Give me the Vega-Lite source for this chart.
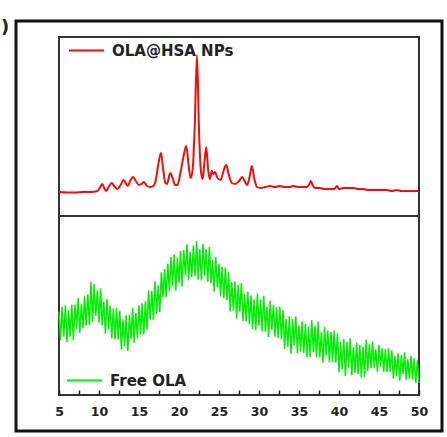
{
  "$schema": "https://vega.github.io/schema/vega-lite/v6.json",
  "autosize": {"type": "none"},
  "width": 360,
  "height": 358,
  "padding": {"left": 59, "top": 37, "right": 28, "bottom": 42},
  "background": "white",
  "config": {
    "view": {"stroke": "#333", "strokeWidth": 2},
    "axisX": {
      "domain": false, "grid": false, "ticks": true, "tickSize": -5, "tickColor": "#222", "tickWidth": 1.5,
      "labelFont": "DejaVu Sans", "labelFontWeight": "bold", "labelFontSize": 12.5, "labelColor": "#222",
      "labelPadding": 15, "labelFlush": false, "labelOverlap": false
    }
  },
  "datasets": {
    "ola_hsa": [
      {"angle": 5.0, "counts": 80}, {"angle": 6.0, "counts": 75}, {"angle": 7.0, "counts": 75}, {"angle": 8.0, "counts": 80},
      {"angle": 9.0, "counts": 80}, {"angle": 9.8, "counts": 90}, {"angle": 10.1, "counts": 120}, {"angle": 10.4, "counts": 160},
      {"angle": 10.7, "counts": 110}, {"angle": 10.9, "counts": 90}, {"angle": 11.2, "counts": 130}, {"angle": 11.6, "counts": 170},
      {"angle": 11.9, "counts": 140}, {"angle": 12.3, "counts": 110}, {"angle": 12.7, "counts": 150}, {"angle": 13.1, "counts": 200},
      {"angle": 13.4, "counts": 160}, {"angle": 13.6, "counts": 140}, {"angle": 13.9, "counts": 190}, {"angle": 14.25, "counts": 230},
      {"angle": 14.6, "counts": 190}, {"angle": 15.0, "counts": 150}, {"angle": 15.3, "counts": 160}, {"angle": 15.6, "counts": 180},
      {"angle": 16.0, "counts": 140}, {"angle": 16.4, "counts": 130}, {"angle": 16.8, "counts": 140}, {"angle": 17.1, "counts": 200},
      {"angle": 17.4, "counts": 350}, {"angle": 17.75, "counts": 470}, {"angle": 18.0, "counts": 320}, {"angle": 18.3, "counts": 170},
      {"angle": 18.5, "counts": 160}, {"angle": 18.9, "counts": 270}, {"angle": 19.2, "counts": 220}, {"angle": 19.5, "counts": 150},
      {"angle": 19.8, "counts": 150}, {"angle": 20.2, "counts": 280}, {"angle": 20.6, "counts": 450}, {"angle": 20.9, "counts": 540},
      {"angle": 21.2, "counts": 350}, {"angle": 21.45, "counts": 220}, {"angle": 21.7, "counts": 300}, {"angle": 21.95, "counts": 700},
      {"angle": 22.25, "counts": 1450}, {"angle": 22.5, "counts": 700}, {"angle": 22.75, "counts": 280}, {"angle": 22.95, "counts": 210},
      {"angle": 23.15, "counts": 350}, {"angle": 23.4, "counts": 530}, {"angle": 23.65, "counts": 300}, {"angle": 23.85, "counts": 210},
      {"angle": 24.1, "counts": 290}, {"angle": 24.3, "counts": 260}, {"angle": 24.5, "counts": 280}, {"angle": 24.8, "counts": 220},
      {"angle": 25.2, "counts": 200}, {"angle": 25.6, "counts": 300}, {"angle": 25.9, "counts": 350}, {"angle": 26.2, "counts": 260},
      {"angle": 26.6, "counts": 170}, {"angle": 27.0, "counts": 160}, {"angle": 27.5, "counts": 190}, {"angle": 27.9, "counts": 230},
      {"angle": 28.2, "counts": 190}, {"angle": 28.5, "counts": 150}, {"angle": 28.8, "counts": 220}, {"angle": 29.1, "counts": 340},
      {"angle": 29.4, "counts": 220}, {"angle": 29.75, "counts": 130}, {"angle": 30.2, "counts": 120}, {"angle": 30.8, "counts": 130},
      {"angle": 31.4, "counts": 140}, {"angle": 32.0, "counts": 130}, {"angle": 32.6, "counts": 140}, {"angle": 33.2, "counts": 130},
      {"angle": 33.8, "counts": 130}, {"angle": 34.3, "counts": 140}, {"angle": 34.9, "counts": 130}, {"angle": 35.5, "counts": 130},
      {"angle": 36.0, "counts": 130}, {"angle": 36.3, "counts": 160}, {"angle": 36.5, "counts": 190}, {"angle": 36.7, "counts": 150},
      {"angle": 37.0, "counts": 120}, {"angle": 37.6, "counts": 120}, {"angle": 38.2, "counts": 110}, {"angle": 38.8, "counts": 110},
      {"angle": 39.4, "counts": 110}, {"angle": 39.75, "counts": 140}, {"angle": 40.0, "counts": 110}, {"angle": 40.6, "counts": 120},
      {"angle": 41.2, "counts": 120}, {"angle": 41.8, "counts": 120}, {"angle": 42.4, "counts": 110}, {"angle": 43.0, "counts": 110},
      {"angle": 43.6, "counts": 100}, {"angle": 44.2, "counts": 100}, {"angle": 44.8, "counts": 100}, {"angle": 45.4, "counts": 100},
      {"angle": 46.0, "counts": 100}, {"angle": 46.6, "counts": 90}, {"angle": 47.2, "counts": 100}, {"angle": 47.8, "counts": 90},
      {"angle": 48.4, "counts": 90}, {"angle": 49.0, "counts": 90}, {"angle": 49.6, "counts": 90}, {"angle": 50.0, "counts": 90}
    ],
    "free_ola": [
      {"angle": 5.0, "counts": 882}, {"angle": 5.2, "counts": 597}, {"angle": 5.4, "counts": 933}, {"angle": 5.6, "counts": 634},
      {"angle": 5.8, "counts": 944}, {"angle": 6.0, "counts": 578}, {"angle": 6.2, "counts": 896}, {"angle": 6.4, "counts": 634},
      {"angle": 6.6, "counts": 952}, {"angle": 6.8, "counts": 596}, {"angle": 7.0, "counts": 955}, {"angle": 7.2, "counts": 710},
      {"angle": 7.4, "counts": 1020}, {"angle": 7.6, "counts": 667}, {"angle": 7.8, "counts": 962}, {"angle": 8.0, "counts": 718},
      {"angle": 8.2, "counts": 1042}, {"angle": 8.4, "counts": 746}, {"angle": 8.6, "counts": 1057}, {"angle": 8.8, "counts": 747},
      {"angle": 9.0, "counts": 1180}, {"angle": 9.2, "counts": 778}, {"angle": 9.4, "counts": 1160}, {"angle": 9.6, "counts": 844},
      {"angle": 9.8, "counts": 1098}, {"angle": 10.0, "counts": 772}, {"angle": 10.2, "counts": 1116}, {"angle": 10.4, "counts": 745},
      {"angle": 10.6, "counts": 982}, {"angle": 10.8, "counts": 664}, {"angle": 11.0, "counts": 1009}, {"angle": 11.2, "counts": 706},
      {"angle": 11.4, "counts": 942}, {"angle": 11.6, "counts": 616}, {"angle": 11.8, "counts": 914}, {"angle": 12.0, "counts": 605},
      {"angle": 12.2, "counts": 921}, {"angle": 12.4, "counts": 602}, {"angle": 12.6, "counts": 892}, {"angle": 12.8, "counts": 506},
      {"angle": 13.0, "counts": 808}, {"angle": 13.2, "counts": 538}, {"angle": 13.4, "counts": 848}, {"angle": 13.6, "counts": 490},
      {"angle": 13.8, "counts": 853}, {"angle": 14.0, "counts": 608}, {"angle": 14.2, "counts": 922}, {"angle": 14.4, "counts": 573},
      {"angle": 14.6, "counts": 870}, {"angle": 14.8, "counts": 626}, {"angle": 15.0, "counts": 948}, {"angle": 15.2, "counts": 654},
      {"angle": 15.4, "counts": 967}, {"angle": 15.6, "counts": 659}, {"angle": 15.8, "counts": 986}, {"angle": 16.0, "counts": 704},
      {"angle": 16.2, "counts": 1098}, {"angle": 16.4, "counts": 804}, {"angle": 16.6, "counts": 1092}, {"angle": 16.8, "counts": 802},
      {"angle": 17.0, "counts": 1186}, {"angle": 17.2, "counts": 863}, {"angle": 17.4, "counts": 1148}, {"angle": 17.6, "counts": 880},
      {"angle": 17.8, "counts": 1277}, {"angle": 18.0, "counts": 1026}, {"angle": 18.2, "counts": 1310}, {"angle": 18.4, "counts": 1028},
      {"angle": 18.6, "counts": 1362}, {"angle": 18.8, "counts": 1085}, {"angle": 19.0, "counts": 1429}, {"angle": 19.2, "counts": 1138},
      {"angle": 19.4, "counts": 1456}, {"angle": 19.6, "counts": 1096}, {"angle": 19.8, "counts": 1422}, {"angle": 20.0, "counts": 1168},
      {"angle": 20.2, "counts": 1490}, {"angle": 20.4, "counts": 1138}, {"angle": 20.6, "counts": 1499}, {"angle": 20.8, "counts": 1250},
      {"angle": 21.0, "counts": 1556}, {"angle": 21.2, "counts": 1195}, {"angle": 21.4, "counts": 1482}, {"angle": 21.6, "counts": 1230},
      {"angle": 21.8, "counts": 1544}, {"angle": 22.0, "counts": 1238}, {"angle": 22.2, "counts": 1590}, {"angle": 22.4, "counts": 1203},
      {"angle": 22.6, "counts": 1506}, {"angle": 22.8, "counts": 1196}, {"angle": 23.0, "counts": 1562}, {"angle": 23.2, "counts": 1244},
      {"angle": 23.4, "counts": 1506}, {"angle": 23.6, "counts": 1184}, {"angle": 23.8, "counts": 1532}, {"angle": 24.0, "counts": 1165},
      {"angle": 24.2, "counts": 1402}, {"angle": 24.4, "counts": 1084}, {"angle": 24.6, "counts": 1429}, {"angle": 24.8, "counts": 1126},
      {"angle": 25.0, "counts": 1362}, {"angle": 25.2, "counts": 1036}, {"angle": 25.4, "counts": 1330}, {"angle": 25.6, "counts": 1017},
      {"angle": 25.8, "counts": 1325}, {"angle": 26.0, "counts": 998}, {"angle": 26.2, "counts": 1280}, {"angle": 26.4, "counts": 886},
      {"angle": 26.6, "counts": 1180}, {"angle": 26.8, "counts": 894}, {"angle": 27.0, "counts": 1188}, {"angle": 27.2, "counts": 812},
      {"angle": 27.4, "counts": 1151}, {"angle": 27.6, "counts": 882}, {"angle": 27.8, "counts": 1168}, {"angle": 28.0, "counts": 791},
      {"angle": 28.2, "counts": 1058}, {"angle": 28.4, "counts": 786}, {"angle": 28.6, "counts": 1082}, {"angle": 28.8, "counts": 760},
      {"angle": 29.0, "counts": 1045}, {"angle": 29.2, "counts": 709}, {"angle": 29.4, "counts": 1008}, {"angle": 29.6, "counts": 698},
      {"angle": 29.8, "counts": 1064}, {"angle": 30.0, "counts": 742}, {"angle": 30.2, "counts": 1004}, {"angle": 30.4, "counts": 686},
      {"angle": 30.6, "counts": 1042}, {"angle": 30.8, "counts": 683}, {"angle": 31.0, "counts": 932}, {"angle": 31.2, "counts": 630},
      {"angle": 31.4, "counts": 991}, {"angle": 31.6, "counts": 702}, {"angle": 31.8, "counts": 950}, {"angle": 32.0, "counts": 632},
      {"angle": 32.2, "counts": 930}, {"angle": 32.4, "counts": 621}, {"angle": 32.6, "counts": 933}, {"angle": 32.8, "counts": 610},
      {"angle": 33.0, "counts": 896}, {"angle": 33.2, "counts": 510}, {"angle": 33.4, "counts": 812}, {"angle": 33.6, "counts": 534},
      {"angle": 33.8, "counts": 836}, {"angle": 34.0, "counts": 464}, {"angle": 34.2, "counts": 809}, {"angle": 34.4, "counts": 546},
      {"angle": 34.6, "counts": 838}, {"angle": 34.8, "counts": 467}, {"angle": 35.0, "counts": 744}, {"angle": 35.2, "counts": 482},
      {"angle": 35.4, "counts": 786}, {"angle": 35.6, "counts": 470}, {"angle": 35.8, "counts": 761}, {"angle": 36.0, "counts": 431},
      {"angle": 36.2, "counts": 734}, {"angle": 36.4, "counts": 428}, {"angle": 36.6, "counts": 798}, {"angle": 36.8, "counts": 480},
      {"angle": 37.0, "counts": 742}, {"angle": 37.2, "counts": 426}, {"angle": 37.4, "counts": 784}, {"angle": 37.6, "counts": 427},
      {"angle": 37.8, "counts": 678}, {"angle": 38.0, "counts": 374}, {"angle": 38.2, "counts": 733}, {"angle": 38.4, "counts": 444},
      {"angle": 38.6, "counts": 694}, {"angle": 38.8, "counts": 378}, {"angle": 39.0, "counts": 682}, {"angle": 39.2, "counts": 377},
      {"angle": 39.4, "counts": 693}, {"angle": 39.6, "counts": 374}, {"angle": 39.8, "counts": 664}, {"angle": 40.0, "counts": 278},
      {"angle": 40.2, "counts": 582}, {"angle": 40.4, "counts": 306}, {"angle": 40.6, "counts": 610}, {"angle": 40.8, "counts": 240},
      {"angle": 41.0, "counts": 585}, {"angle": 41.2, "counts": 324}, {"angle": 41.4, "counts": 618}, {"angle": 41.6, "counts": 249},
      {"angle": 41.8, "counts": 528}, {"angle": 42.0, "counts": 268}, {"angle": 42.2, "counts": 574}, {"angle": 42.4, "counts": 260},
      {"angle": 42.6, "counts": 553}, {"angle": 42.8, "counts": 225}, {"angle": 43.0, "counts": 532}, {"angle": 43.2, "counts": 230},
      {"angle": 43.4, "counts": 604}, {"angle": 43.6, "counts": 290}, {"angle": 43.8, "counts": 556}, {"angle": 44.0, "counts": 320},
      {"angle": 44.2, "counts": 586}, {"angle": 44.4, "counts": 322}, {"angle": 44.6, "counts": 508}, {"angle": 44.8, "counts": 284},
      {"angle": 45.0, "counts": 550}, {"angle": 45.2, "counts": 334}, {"angle": 45.4, "counts": 518}, {"angle": 45.6, "counts": 282},
      {"angle": 45.8, "counts": 506}, {"angle": 46.0, "counts": 280}, {"angle": 46.2, "counts": 516}, {"angle": 46.4, "counts": 282},
      {"angle": 46.6, "counts": 498}, {"angle": 46.8, "counts": 214}, {"angle": 47.0, "counts": 440}, {"angle": 47.2, "counts": 238},
      {"angle": 47.4, "counts": 466}, {"angle": 47.6, "counts": 194}, {"angle": 47.8, "counts": 452}, {"angle": 48.0, "counts": 260},
      {"angle": 48.2, "counts": 476}, {"angle": 48.4, "counts": 202}, {"angle": 48.6, "counts": 408}, {"angle": 48.8, "counts": 214},
      {"angle": 49.0, "counts": 440}, {"angle": 49.2, "counts": 204}, {"angle": 49.4, "counts": 418}, {"angle": 49.6, "counts": 172},
      {"angle": 49.8, "counts": 396}, {"angle": 50.0, "counts": 170}
    ]
  },
  "layer": [
    {
      "data": {"values": [{}]},
      "mark": {"type": "rect", "fillOpacity": 0, "stroke": "#111", "strokeWidth": 3},
      "encoding": {
        "x": {
          "datum": -0.375, "type": "quantitative",
          "scale": {"domain": [5, 50], "nice": false, "zero": false},
          "axis": {
            "title": null,
            "values": [5, 7.5, 10, 12.5, 15, 17.5, 20, 22.5, 25, 27.5, 30, 32.5, 35, 37.5, 40, 42.5, 45, 47.5, 50],
            "labelExpr": "datum.value % 5 === 0 ? datum.label : ''"
          }
        },
        "x2": {"datum": 52.875},
        "y": {"datum": -0.1006, "type": "quantitative", "scale": {"domain": [0, 1], "nice": false, "zero": false}, "axis": null},
        "y2": {"datum": 1.0447}
      }
    },
    {
      "data": {"values": [{}]},
      "mark": {"type": "text", "text": ")", "fontSize": 18, "fontWeight": "bold", "font": "DejaVu Sans", "color": "#222"},
      "encoding": {
        "x": {
          "datum": -1.75, "type": "quantitative",
          "scale": {"domain": [5, 50], "nice": false, "zero": false},
          "axis": {
            "title": null,
            "values": [5, 7.5, 10, 12.5, 15, 17.5, 20, 22.5, 25, 27.5, 30, 32.5, 35, 37.5, 40, 42.5, 45, 47.5, 50],
            "labelExpr": "datum.value % 5 === 0 ? datum.label : ''"
          }
        },
        "y": {"datum": 1.025, "type": "quantitative", "scale": {"domain": [0, 1], "nice": false, "zero": false}, "axis": null}
      }
    },
    {
      "data": {"values": [{}]},
      "mark": {"type": "rule", "stroke": "#333", "strokeWidth": 2},
      "encoding": {
        "x": {
          "datum": 5, "type": "quantitative",
          "scale": {"domain": [5, 50], "nice": false, "zero": false},
          "axis": {
            "title": null,
            "values": [5, 7.5, 10, 12.5, 15, 17.5, 20, 22.5, 25, 27.5, 30, 32.5, 35, 37.5, 40, 42.5, 45, 47.5, 50],
            "labelExpr": "datum.value % 5 === 0 ? datum.label : ''"
          }
        },
        "x2": {"datum": 50},
        "y": {"datum": 0.5, "type": "quantitative", "scale": {"domain": [0, 1], "nice": false, "zero": false}, "axis": null}
      }
    },
    {
      "data": {"name": "ola_hsa"},
      "mark": {"type": "line", "strokeWidth": 2, "interpolate": "monotone"},
      "encoding": {
        "x": {
          "field": "angle", "type": "quantitative",
          "scale": {"domain": [5, 50], "nice": false, "zero": false},
          "axis": {
            "title": null,
            "values": [5, 7.5, 10, 12.5, 15, 17.5, 20, 22.5, 25, 27.5, 30, 32.5, 35, 37.5, 40, 42.5, 45, 47.5, 50],
            "labelExpr": "datum.value % 5 === 0 ? datum.label : ''"
          }
        },
        "y": {"field": "counts", "type": "quantitative", "scale": {"domain": [-1950, 1630], "nice": false, "zero": false}, "axis": null},
        "color": {
          "datum": "OLA@HSA NPs", "type": "nominal",
          "scale": {"domain": ["OLA@HSA NPs"], "range": ["#f20d0d"]},
          "legend": {
            "orient": "none", "legendX": 9, "legendY": -5, "title": null, "padding": 0,
            "symbolType": "stroke", "symbolSize": 1225, "symbolStrokeWidth": 2,
            "labelFont": "DejaVu Sans", "labelFontWeight": "bold", "labelFontSize": 15, "labelColor": "#222", "labelOffset": 7
          }
        }
      }
    },
    {
      "data": {"name": "free_ola"},
      "mark": {"type": "line", "strokeWidth": 1.5},
      "encoding": {
        "x": {
          "field": "angle", "type": "quantitative",
          "scale": {"domain": [5, 50], "nice": false, "zero": false},
          "axis": {
            "title": null,
            "values": [5, 7.5, 10, 12.5, 15, 17.5, 20, 22.5, 25, 27.5, 30, 32.5, 35, 37.5, 40, 42.5, 45, 47.5, 50],
            "labelExpr": "datum.value % 5 === 0 ? datum.label : ''"
          }
        },
        "y": {"field": "counts", "type": "quantitative", "scale": {"domain": [50, 3630], "nice": false, "zero": false}, "axis": null},
        "color": {
          "datum": "Free OLA", "type": "nominal",
          "scale": {"domain": ["Free OLA"], "range": ["#00ee00"]},
          "legend": {
            "orient": "none", "legendX": 7, "legendY": 325, "title": null, "padding": 0,
            "symbolType": "stroke", "symbolSize": 1225, "symbolStrokeWidth": 2,
            "labelFont": "DejaVu Sans", "labelFontWeight": "bold", "labelFontSize": 15, "labelColor": "#222", "labelOffset": 7
          }
        }
      }
    }
  ],
  "resolve": {
    "scale": {"y": "independent", "color": "independent"},
    "legend": {"color": "independent"}
  }
}
